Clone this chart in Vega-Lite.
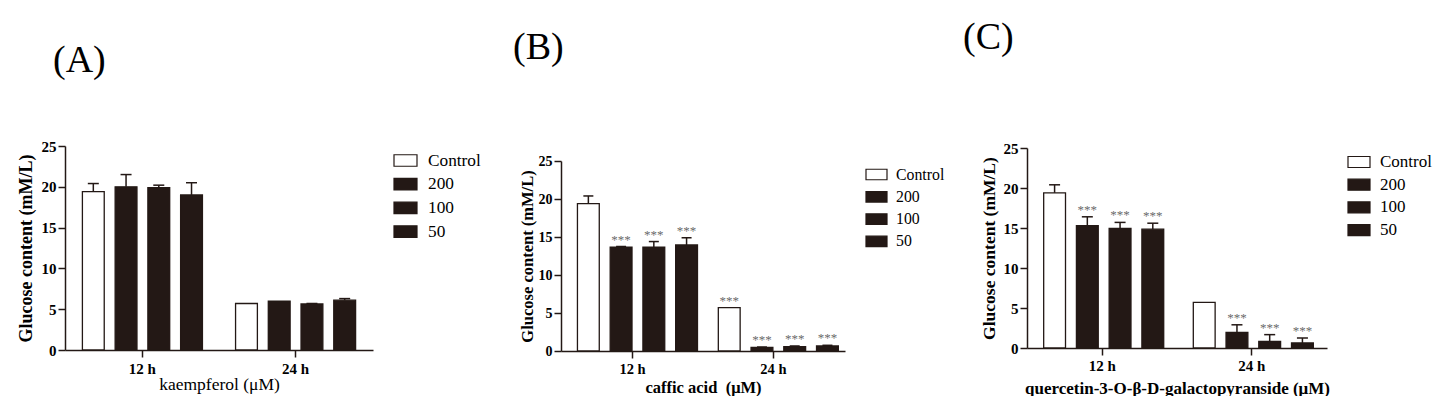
{
  "$schema": "https://vega.github.io/schema/vega-lite/v6.json",
  "padding": {"left": 17, "top": 10, "right": 0, "bottom": 0},
  "background": "white",
  "config": {
    "view": {"stroke": null},
    "font": "Liberation Serif",
    "axis": {"grid": false, "domainColor": "#231815", "tickColor": "#231815", "domainWidth": 1.5, "tickWidth": 1.5, "labelColor": "#000000", "titleColor": "#000000", "labelFont": "Liberation Serif", "titleFont": "Liberation Serif"},
    "legend": {"labelFont": "Liberation Serif", "labelColor": "#000000"},
    "title": {"font": "Liberation Serif", "fontWeight": "normal", "color": "#000000", "anchor": "start", "frame": "group"}
  },
  "datasets": {
    "A": [
      {"time": "12 h", "group": "Control", "value": 19.4, "upper": 20.4, "sig": ""},
      {"time": "12 h", "group": "200", "value": 20.0, "upper": 21.5, "sig": ""},
      {"time": "12 h", "group": "100", "value": 19.9, "upper": 20.2, "sig": ""},
      {"time": "12 h", "group": "50", "value": 19.0, "upper": 20.5, "sig": ""},
      {"time": "24 h", "group": "Control", "value": 5.7, "upper": 5.7, "sig": ""},
      {"time": "24 h", "group": "200", "value": 6.0, "upper": 6.0, "sig": ""},
      {"time": "24 h", "group": "100", "value": 5.65, "upper": 5.7, "sig": ""},
      {"time": "24 h", "group": "50", "value": 6.1, "upper": 6.3, "sig": ""}
    ],
    "B": [
      {"time": "12 h", "group": "Control", "value": 19.4, "upper": 20.4, "sig": ""},
      {"time": "12 h", "group": "200", "value": 13.65, "upper": 13.75, "sig": "***"},
      {"time": "12 h", "group": "100", "value": 13.65, "upper": 14.4, "sig": "***"},
      {"time": "12 h", "group": "50", "value": 13.95, "upper": 14.9, "sig": "***"},
      {"time": "24 h", "group": "Control", "value": 5.7, "upper": 5.7, "sig": "***"},
      {"time": "24 h", "group": "200", "value": 0.48, "upper": 0.52, "sig": "***"},
      {"time": "24 h", "group": "100", "value": 0.57, "upper": 0.66, "sig": "***"},
      {"time": "24 h", "group": "50", "value": 0.66, "upper": 0.75, "sig": "***"}
    ],
    "C": [
      {"time": "12 h", "group": "Control", "value": 19.4, "upper": 20.4, "sig": ""},
      {"time": "12 h", "group": "200", "value": 15.3, "upper": 16.4, "sig": "***"},
      {"time": "12 h", "group": "100", "value": 14.95, "upper": 15.7, "sig": "***"},
      {"time": "12 h", "group": "50", "value": 14.85, "upper": 15.6, "sig": "***"},
      {"time": "24 h", "group": "Control", "value": 5.7, "upper": 5.7, "sig": ""},
      {"time": "24 h", "group": "200", "value": 1.95, "upper": 2.9, "sig": "***"},
      {"time": "24 h", "group": "100", "value": 0.83, "upper": 1.67, "sig": "***"},
      {"time": "24 h", "group": "50", "value": 0.63, "upper": 1.25, "sig": "***"}
    ],
    "none": []
  },
  "spacing": 30,
  "resolve": {"scale": {"color": "independent"}, "legend": {"color": "independent"}},
  "hconcat": [
    {
      "spacing": 0,
      "resolve": {"scale": {"color": "independent"}, "legend": {"color": "independent"}},
      "vconcat": [
        {"width": 10, "height": 32, "data": {"name": "none"}, "mark": {"type": "point", "opacity": 0}, "encoding": {}},
        {
          "title": {"text": "(A)", "fontSize": 38, "dx": -12, "offset": 59},
          "width": 308,
          "height": 204,
          "data": {"name": "A"},
          "encoding": {
            "x": {"field": "time", "type": "nominal", "sort": ["12 h", "24 h"], "scale": {"paddingInner": 0.145, "paddingOuter": 0.078}, "title": "kaempferol (μM)",
                  "axis": {"labelAngle": 0, "tickSize": 7, "labelPadding": 4, "labelFontWeight": "bold", "labelFontSize": 15, "titleFontSize": 17.5, "titleFontWeight": "normal", "titlePadding": -1}},
            "xOffset": {"field": "group", "type": "nominal", "sort": ["Control", "200", "100", "50"], "scale": {"paddingInner": 0.3333, "paddingOuter": 0.1667}}
          },
          "layer": [
            {
              "mark": {"type": "bar", "stroke": "#231815", "strokeWidth": 1.3},
              "encoding": {
                "y": {"field": "value", "type": "quantitative", "scale": {"domain": [0, 25], "nice": false}, "title": "Glucose content (mM/L)",
                      "axis": {"values": [0, 5, 10, 15, 20, 25], "tickSize": 7, "labelPadding": 2, "labelFontWeight": "bold", "labelFontSize": 15, "titleFontSize": 18, "titleFontWeight": "bold", "titlePadding": 6, "labelOverlap": false}},
                "color": {"field": "group", "type": "nominal", "sort": ["Control", "200", "100", "50"],
                          "scale": {"domain": ["Control", "200", "100", "50"], "range": ["#ffffff", "#231815", "#231815", "#231815"]},
                          "legend": {"title": null, "symbolType": "M-1,-0.5H1V0.5H-1Z", "symbolSize": 529, "symbolStrokeColor": "#231815", "symbolStrokeWidth": 1.2, "symbolOpacity": 1, "labelFontSize": 17.3, "labelOffset": 10, "rowPadding": 2.7, "padding": 2, "offset": 18}}
              }
            },
            {
              "transform": [{"filter": "datum.upper > datum.value"}],
              "mark": {"type": "rule", "color": "#231815", "strokeWidth": 1.5},
              "encoding": {
                "y": {"field": "value", "type": "quantitative", "scale": {"domain": [0, 25], "nice": false}, "title": "Glucose content (mM/L)",
                      "axis": {"values": [0, 5, 10, 15, 20, 25], "tickSize": 7, "labelPadding": 2, "labelFontWeight": "bold", "labelFontSize": 15, "titleFontSize": 18, "titleFontWeight": "bold", "titlePadding": 6, "labelOverlap": false}},
                "y2": {"field": "upper"}
              }
            },
            {
              "transform": [{"filter": "datum.upper > datum.value"}],
              "mark": {"type": "tick", "orient": "horizontal", "size": 11, "thickness": 1.5, "color": "#231815", "opacity": 1},
              "encoding": {
                "y": {"field": "upper", "type": "quantitative", "scale": {"domain": [0, 25], "nice": false}, "title": "Glucose content (mM/L)",
                      "axis": {"values": [0, 5, 10, 15, 20, 25], "tickSize": 7, "labelPadding": 2, "labelFontWeight": "bold", "labelFontSize": 15, "titleFontSize": 18, "titleFontWeight": "bold", "titlePadding": 6, "labelOverlap": false}}
              }
            }
          ]
        }
      ]
    },
    {
      "spacing": 16,
      "resolve": {"scale": {"color": "independent"}, "legend": {"color": "independent"}},
      "hconcat": [
        {
          "spacing": 0,
          "resolve": {"scale": {"color": "independent"}, "legend": {"color": "independent"}},
          "vconcat": [
            {"width": 10, "height": 19, "data": {"name": "none"}, "mark": {"type": "point", "opacity": 0}, "encoding": {}},
            {
              "title": {"text": "(B)", "fontSize": 38, "dx": -48, "offset": 87},
              "width": 284,
              "height": 190,
              "data": {"name": "B"},
              "encoding": {
                "x": {"field": "time", "type": "nominal", "sort": ["12 h", "24 h"], "scale": {"paddingInner": 0.14, "paddingOuter": 0.078}, "title": "caffic acid\u00a0 (μM)",
                      "axis": {"labelAngle": 0, "tickSize": 7, "labelPadding": 4, "labelFontWeight": "bold", "labelFontSize": 14.5, "titleFontSize": 16.5, "titleFontWeight": "bold", "titlePadding": 4}},
                "xOffset": {"field": "group", "type": "nominal", "sort": ["Control", "200", "100", "50"], "scale": {"paddingInner": 0.3333, "paddingOuter": 0.1667}}
              },
              "layer": [
                {
                  "mark": {"type": "bar", "stroke": "#231815", "strokeWidth": 1.3},
                  "encoding": {
                    "y": {"field": "value", "type": "quantitative", "scale": {"domain": [0, 25], "nice": false}, "title": "Glucose content (mM/L)",
                          "axis": {"values": [0, 5, 10, 15, 20, 25], "tickSize": 7, "labelPadding": 2, "labelFontWeight": "bold", "labelFontSize": 14, "titleFontSize": 16.5, "titleFontWeight": "bold", "titlePadding": 3, "labelOverlap": false}},
                    "color": {"field": "group", "type": "nominal", "sort": ["Control", "200", "100", "50"],
                              "scale": {"domain": ["Control", "200", "100", "50"], "range": ["#ffffff", "#231815", "#231815", "#231815"]},
                              "legend": {"title": null, "symbolType": "M-1,-0.5H1V0.5H-1Z", "symbolSize": 441, "symbolStrokeColor": "#231815", "symbolStrokeWidth": 1.2, "symbolOpacity": 1, "labelFontSize": 15.8, "labelOffset": 8, "rowPadding": 2.3, "padding": 2, "offset": 18}}
                  }
                },
                {
                  "transform": [{"filter": "datum.upper > datum.value"}],
                  "mark": {"type": "rule", "color": "#231815", "strokeWidth": 1.5},
                  "encoding": {
                    "y": {"field": "value", "type": "quantitative", "scale": {"domain": [0, 25], "nice": false}, "title": "Glucose content (mM/L)",
                          "axis": {"values": [0, 5, 10, 15, 20, 25], "tickSize": 7, "labelPadding": 2, "labelFontWeight": "bold", "labelFontSize": 14, "titleFontSize": 16.5, "titleFontWeight": "bold", "titlePadding": 3, "labelOverlap": false}},
                    "y2": {"field": "upper"}
                  }
                },
                {
                  "transform": [{"filter": "datum.upper > datum.value"}],
                  "mark": {"type": "tick", "orient": "horizontal", "size": 10, "thickness": 1.5, "color": "#231815", "opacity": 1},
                  "encoding": {
                    "y": {"field": "upper", "type": "quantitative", "scale": {"domain": [0, 25], "nice": false}, "title": "Glucose content (mM/L)",
                          "axis": {"values": [0, 5, 10, 15, 20, 25], "tickSize": 7, "labelPadding": 2, "labelFontWeight": "bold", "labelFontSize": 14, "titleFontSize": 16.5, "titleFontWeight": "bold", "titlePadding": 3, "labelOverlap": false}}
                  }
                },
                {
                  "transform": [{"filter": "datum.sig != ''"}],
                  "mark": {"type": "text", "fontSize": 13, "color": "#6a6a6a", "baseline": "alphabetic", "dy": -3},
                  "encoding": {
                    "y": {"field": "upper", "type": "quantitative", "scale": {"domain": [0, 25], "nice": false}, "title": "Glucose content (mM/L)",
                          "axis": {"values": [0, 5, 10, 15, 20, 25], "tickSize": 7, "labelPadding": 2, "labelFontWeight": "bold", "labelFontSize": 14, "titleFontSize": 16.5, "titleFontWeight": "bold", "titlePadding": 3, "labelOverlap": false}},
                    "text": {"field": "sig"}
                  }
                }
              ]
            }
          ]
        },
        {
          "spacing": 0,
          "resolve": {"scale": {"color": "independent"}, "legend": {"color": "independent"}},
          "vconcat": [
            {"width": 10, "height": 9, "data": {"name": "none"}, "mark": {"type": "point", "opacity": 0}, "encoding": {}},
            {
              "title": {"text": "(C)", "fontSize": 38, "dx": -64, "offset": 84},
              "width": 300,
              "height": 200,
              "data": {"name": "C"},
              "encoding": {
                "x": {"field": "time", "type": "nominal", "sort": ["12 h", "24 h"], "scale": {"paddingInner": 0.145, "paddingOuter": 0.075}, "title": "quercetin-3-O-β-D-galactopyranside (μM)",
                      "axis": {"labelAngle": 0, "tickSize": 7, "labelPadding": 3, "labelFontWeight": "bold", "labelFontSize": 15, "titleFontSize": 17, "titleFontWeight": "bold", "titlePadding": 7}},
                "xOffset": {"field": "group", "type": "nominal", "sort": ["Control", "200", "100", "50"], "scale": {"paddingInner": 0.3333, "paddingOuter": 0.1667}}
              },
              "layer": [
                {
                  "mark": {"type": "bar", "stroke": "#231815", "strokeWidth": 1.3},
                  "encoding": {
                    "y": {"field": "value", "type": "quantitative", "scale": {"domain": [0, 25], "nice": false}, "title": "Glucose content (mM/L)",
                          "axis": {"values": [0, 5, 10, 15, 20, 25], "tickSize": 7, "labelPadding": 2, "labelFontWeight": "bold", "labelFontSize": 15, "titleFontSize": 17.5, "titleFontWeight": "bold", "titlePadding": 5, "labelOverlap": false}},
                    "color": {"field": "group", "type": "nominal", "sort": ["Control", "200", "100", "50"],
                              "scale": {"domain": ["Control", "200", "100", "50"], "range": ["#ffffff", "#231815", "#231815", "#231815"]},
                              "legend": {"title": null, "symbolType": "M-1,-0.5H1V0.5H-1Z", "symbolSize": 484, "symbolStrokeColor": "#231815", "symbolStrokeWidth": 1.2, "symbolOpacity": 1, "labelFontSize": 17, "labelOffset": 9, "rowPadding": 2.7, "padding": 2, "offset": 18}}
                  }
                },
                {
                  "transform": [{"filter": "datum.upper > datum.value"}],
                  "mark": {"type": "rule", "color": "#231815", "strokeWidth": 1.5},
                  "encoding": {
                    "y": {"field": "value", "type": "quantitative", "scale": {"domain": [0, 25], "nice": false}, "title": "Glucose content (mM/L)",
                          "axis": {"values": [0, 5, 10, 15, 20, 25], "tickSize": 7, "labelPadding": 2, "labelFontWeight": "bold", "labelFontSize": 15, "titleFontSize": 17.5, "titleFontWeight": "bold", "titlePadding": 5, "labelOverlap": false}},
                    "y2": {"field": "upper"}
                  }
                },
                {
                  "transform": [{"filter": "datum.upper > datum.value"}],
                  "mark": {"type": "tick", "orient": "horizontal", "size": 11, "thickness": 1.5, "color": "#231815", "opacity": 1},
                  "encoding": {
                    "y": {"field": "upper", "type": "quantitative", "scale": {"domain": [0, 25], "nice": false}, "title": "Glucose content (mM/L)",
                          "axis": {"values": [0, 5, 10, 15, 20, 25], "tickSize": 7, "labelPadding": 2, "labelFontWeight": "bold", "labelFontSize": 15, "titleFontSize": 17.5, "titleFontWeight": "bold", "titlePadding": 5, "labelOverlap": false}}
                  }
                },
                {
                  "transform": [{"filter": "datum.sig != ''"}],
                  "mark": {"type": "text", "fontSize": 13, "color": "#6a6a6a", "baseline": "alphabetic", "dy": -3},
                  "encoding": {
                    "y": {"field": "upper", "type": "quantitative", "scale": {"domain": [0, 25], "nice": false}, "title": "Glucose content (mM/L)",
                          "axis": {"values": [0, 5, 10, 15, 20, 25], "tickSize": 7, "labelPadding": 2, "labelFontWeight": "bold", "labelFontSize": 15, "titleFontSize": 17.5, "titleFontWeight": "bold", "titlePadding": 5, "labelOverlap": false}},
                    "text": {"field": "sig"}
                  }
                }
              ]
            }
          ]
        }
      ]
    }
  ]
}
